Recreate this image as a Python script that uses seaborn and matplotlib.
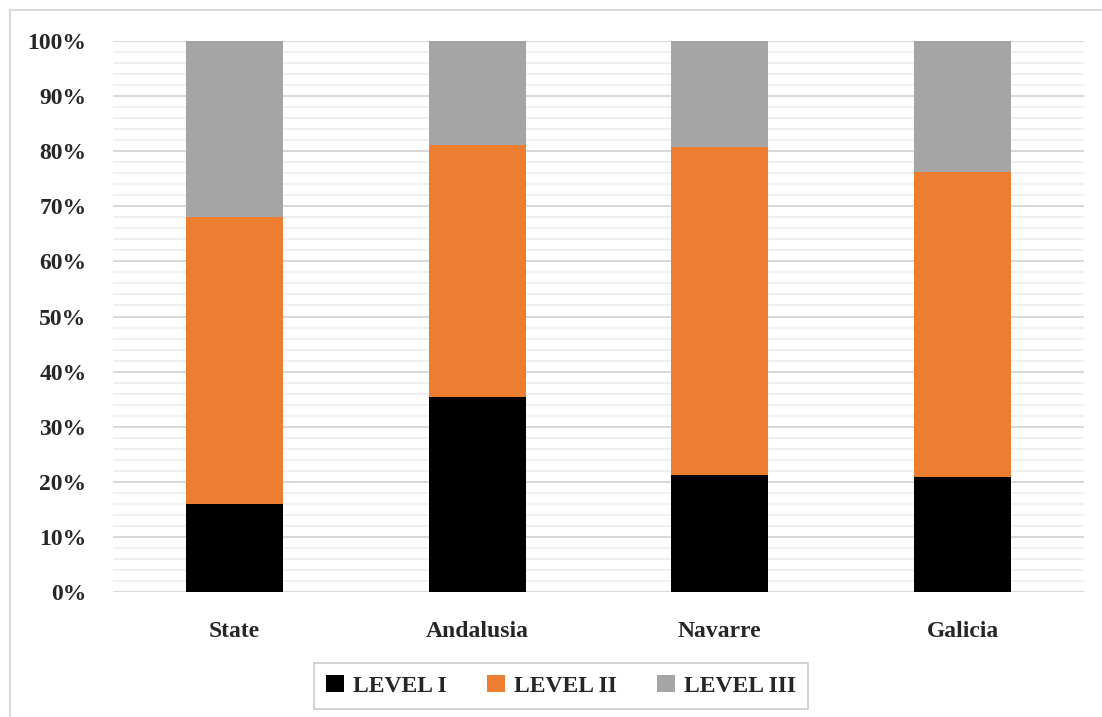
import matplotlib
matplotlib.use("Agg")
import matplotlib.pyplot as plt
import seaborn as sns
import pandas as pd
from matplotlib.patches import Patch
from matplotlib.lines import Line2D
from matplotlib.ticker import MultipleLocator, PercentFormatter

regions = ["State", "Andalusia", "Navarre", "Galicia"]
level_1 = [16.0, 35.4, 21.2, 20.8]
level_2 = [52.0, 45.8, 59.6, 55.5]
level_3 = [32.0, 18.8, 19.2, 23.7]
levels = ["LEVEL I", "LEVEL II", "LEVEL III"]
colors = ["#000000", "#ED7D31", "#A5A5A5"]

sns.set_style("white")
plt.rcParams["font.family"] = ["Liberation Serif", "DejaVu Serif"]
plt.rcParams["font.weight"] = "bold"

fig = plt.figure(figsize=(11.02, 7.17), dpi=100)
ax = fig.add_axes([113 / 1102, 1 - 592 / 717, (1084 - 113) / 1102, (592 - 41) / 717])

df = pd.DataFrame({"region": regions, "l1": level_1, "l2": level_2, "l3": level_3})
bottom = [0.0] * len(regions)
for col, name, c in zip(["l1", "l2", "l3"], levels, colors):
    sns.barplot(data=df, x="region", y=col, color=c, saturation=1, width=0.4,
                bottom=bottom, ax=ax, linewidth=0, zorder=3)
    bottom = [b + v for b, v in zip(bottom, df[col])]

ax.set_ylim(0, 100)
ax.set_xlim(-0.5, 3.5)
ax.yaxis.set_major_locator(MultipleLocator(10))
ax.yaxis.set_minor_locator(MultipleLocator(2))
ax.yaxis.set_major_formatter(PercentFormatter(decimals=0))
ax.grid(True, which="major", axis="y", color="#d9d9d9", linewidth=1.5, zorder=1)
ax.grid(True, which="minor", axis="y", color="#f0f0f0", linewidth=1.5, zorder=0)
ax.set_axisbelow(True)
sns.despine(ax=ax, left=True, bottom=True)
ax.set_xlabel("")
ax.set_ylabel("")
ax.tick_params(axis="both", which="both", length=0, labelsize=17)
ax.tick_params(axis="y", pad=19)
ax.tick_params(axis="x", pad=21)
for lab in ax.get_xticklabels() + ax.get_yticklabels():
    lab.set_fontweight("bold")

handles = [Patch(facecolor=c, edgecolor="none") for c in colors]
leg = fig.legend(handles, levels, loc="center", bbox_to_anchor=(561 / 1102, 1 - 686 / 717),
                 ncol=3, frameon=True, fancybox=False, fontsize=17,
                 handlelength=0.75, handleheight=0.75, handletextpad=0.4,
                 columnspacing=1.7, borderpad=0.5)
leg.get_frame().set_edgecolor("#bfbfbf")
leg.get_frame().set_linewidth(1.2)

# chart area border (left and top edges are visible in the crop)
fig.add_artist(Line2D([10 / 1102, 10 / 1102], [0, 1 - 10 / 717], transform=fig.transFigure,
                      color="#d9d9d9", linewidth=1.5))
fig.add_artist(Line2D([10 / 1102, 1], [1 - 10 / 717, 1 - 10 / 717], transform=fig.transFigure,
                      color="#d9d9d9", linewidth=1.5))

fig.savefig("out.png", dpi=100)
